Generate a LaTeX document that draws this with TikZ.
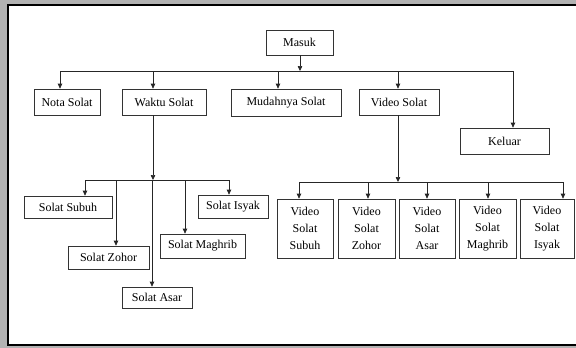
\documentclass[tikz,border=0pt]{standalone}
\usepackage{fontspec}
\setmainfont{Liberation Serif}
\usetikzlibrary{arrows.meta}
\begin{document}
\begin{tikzpicture}[x=1pt,y=-1pt,
  box/.style={draw=black!80,line width=0.7pt,inner sep=0pt,align=center,
    font=\fontsize{12}{17}\selectfont},
  arr/.style={draw=black!85,line width=0.7pt,-{Triangle[length=5pt,width=4.5pt]}},
  bus/.style={draw=black!85,line width=0.7pt}]
  % page frame
  \useasboundingbox (0,0) rectangle (576,348);
  \fill[black!30] (0,0) rectangle (576,348);
  \fill[white] (8,5) rectangle (580,345);
  \draw[line width=2pt] (580,5) -- (8,5) -- (8,345) -- (580,345);

  % top level
  \node[box,minimum width=67pt,minimum height=25pt] (masuk) at (299.5,42.5) {Masuk};
  \node[box,minimum width=66pt,minimum height=26pt] (nota) at (67,102) {Nota Solat};
  \node[box,minimum width=84pt,minimum height=26pt] (waktu) at (164,102) {Waktu Solat};
  \node[box,minimum width=110pt,minimum height=27pt] (mudah) at (286,102.5) {Mudahnya Solat};
  \node[box,minimum width=80pt,minimum height=26pt] (video) at (399,102) {Video Solat};
  \node[box,minimum width=89pt,minimum height=26pt] (keluar) at (504.5,141) {Keluar};

  % prayer times
  \node[box,minimum width=88pt,minimum height=22pt] (subuh) at (68,207) {Solat Subuh};
  \node[box,minimum width=81pt,minimum height=23pt] (zohor) at (108.5,257.5) {Solat Zohor};
  \node[box,minimum width=70pt,minimum height=21pt] (asar) at (157,297.5) {Solat Asar};
  \node[box,minimum width=85pt,minimum height=24pt] (maghrib) at (202.5,246) {Solat Maghrib};
  \node[box,minimum width=70pt,minimum height=23pt] (isyak) at (233,206.5) {Solat Isyak};

  % prayer videos
  \node[box,minimum width=56pt,minimum height=59pt] (vsubuh) at (305,228.5) {Video\\Solat\\Subuh};
  \node[box,minimum width=57pt,minimum height=59pt] (vzohor) at (366.5,228.5) {Video\\Solat\\Zohor};
  \node[box,minimum width=56pt,minimum height=59pt] (vasar) at (427,228.5) {Video\\Solat\\Asar};
  \node[box,minimum width=57pt,minimum height=59pt] (vmaghrib) at (487.5,228.5) {Video\\Solat\\Maghrib};
  \node[box,minimum width=54pt,minimum height=59pt] (visyak) at (547,228.5) {Video\\Solat\\Isyak};

  % junction points of the three buses
  \coordinate (busA) at (300,71);
  \coordinate (busB) at (153,180);
  \coordinate (busC) at (398,182);

  % main menu
  \draw[arr] ([xshift=0.5pt]masuk.south) -- (busA);
  \draw[bus] ([xshift=-7pt]nota.north |- busA) -- ([xshift=8.5pt]keluar.north |- busA);
  \draw[arr] ([xshift=-7pt]nota.north |- busA) -- ([xshift=-7pt]nota.north);
  \draw[arr] ([xshift=-11pt]waktu.north |- busA) -- ([xshift=-11pt]waktu.north);
  \draw[arr] ([xshift=-8pt]mudah.north |- busA) -- ([xshift=-8pt]mudah.north);
  \draw[arr] ([xshift=-1pt]video.north |- busA) -- ([xshift=-1pt]video.north);
  \draw[arr] ([xshift=8.5pt]keluar.north |- busA) -- ([xshift=8.5pt]keluar.north);

  % prayer times branch
  \draw[arr] ([xshift=-11pt]waktu.south) -- (busB);
  \draw[bus] ([xshift=17pt]subuh.north |- busB) -- ([xshift=-4pt]isyak.north |- busB);
  \draw[arr] ([xshift=17pt]subuh.north |- busB) -- ([xshift=17pt]subuh.north);
  \draw[arr] ([xshift=7.5pt]zohor.north |- busB) -- ([xshift=7.5pt]zohor.north);
  \draw[arr] ([xshift=-5pt]asar.north |- busB) -- ([xshift=-5pt]asar.north);
  \draw[arr] ([xshift=-17.5pt]maghrib.north |- busB) -- ([xshift=-17.5pt]maghrib.north);
  \draw[arr] ([xshift=-4pt]isyak.north |- busB) -- ([xshift=-4pt]isyak.north);

  % prayer videos branch
  \draw[arr] ([xshift=-1pt]video.south) -- (busC);
  \draw[bus] ([xshift=-6pt]vsubuh.north |- busC) -- ([xshift=16pt]visyak.north |- busC);
  \draw[arr] ([xshift=-6pt]vsubuh.north |- busC) -- ([xshift=-6pt]vsubuh.north);
  \draw[arr] ([xshift=1.5pt]vzohor.north |- busC) -- ([xshift=1.5pt]vzohor.north);
  \draw[arr] (vasar.north |- busC) -- (vasar.north);
  \draw[arr] ([xshift=0.5pt]vmaghrib.north |- busC) -- ([xshift=0.5pt]vmaghrib.north);
  \draw[arr] ([xshift=16pt]visyak.north |- busC) -- ([xshift=16pt]visyak.north);
\end{tikzpicture}
\end{document}
